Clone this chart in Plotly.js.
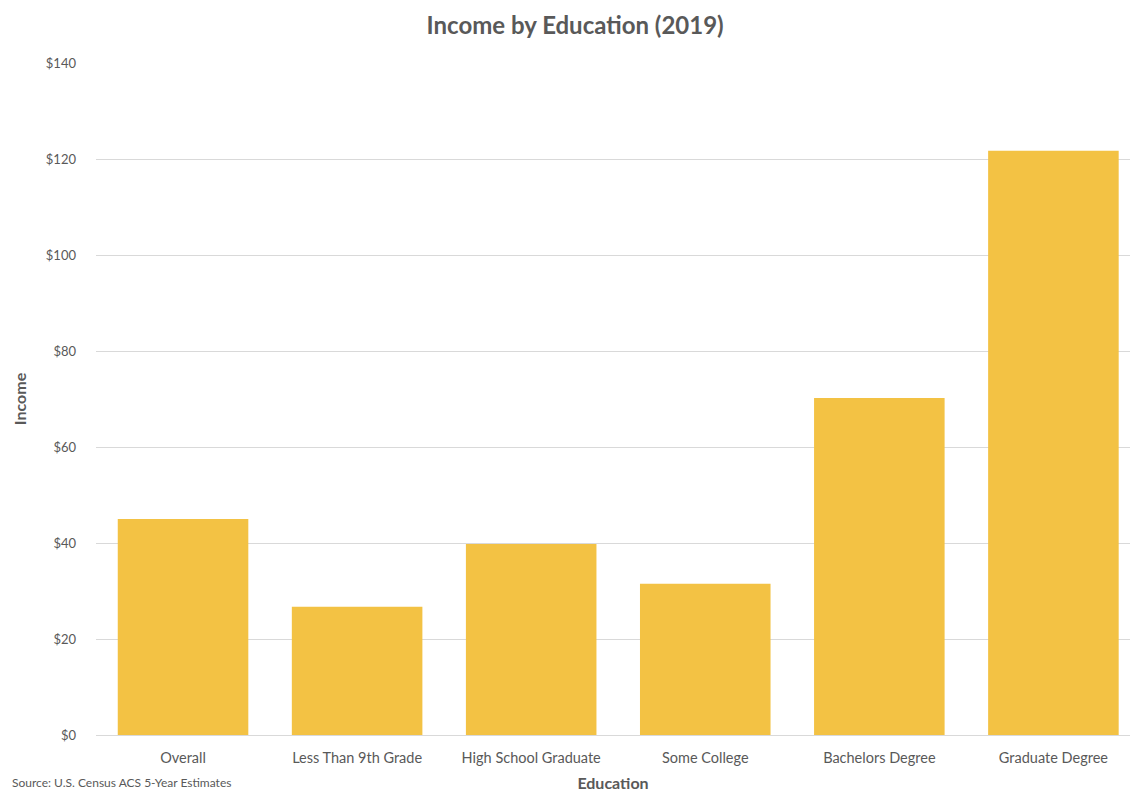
<!DOCTYPE html>
<html>
<head>
<meta charset="utf-8">
<script src="https://cdn.plot.ly/plotly-3.0.1.min.js"></script>
<style>html,body{margin:0;padding:0;background:#fff;overflow:hidden}</style>
</head>
<body>
<div id="chart" style="width:1130px;height:793px"></div>
<script>
const categories = ["Overall", "Less Than 9th Grade", "High School Graduate", "Some College", "Bachelors Degree", "Graduate Degree"];
const income = [45.0, 26.7, 39.8, 31.5, 70.2, 121.7];
const yTickVals = [0, 20, 40, 60, 80, 100, 120, 140];
const yTickText = ["$0", "$20", "$40", "$60", "$80", "$100", "$120", "$140"];

const FONT = "Lato, 'Open Sans', sans-serif";
const GREY = "#595959";

Plotly.newPlot("chart", [{
  type: "bar",
  x: categories,
  y: income,
  marker: {color: "#F3C244"},
  hoverinfo: "x+y"
}], {
  width: 1130, height: 793,
  margin: {l: 96, r: 0, t: 63, b: 58},
  paper_bgcolor: "#fff", plot_bgcolor: "#fff",
  bargap: 0.25,
  showlegend: false,
  font: {family: FONT, color: GREY},
  title: {text: "<b>Income by Education (2019)</b>", x: 0.509, xanchor: "center", y: 0.968, yanchor: "middle",
          font: {family: FONT, size: 24, color: GREY}},
  xaxis: {
    type: "category",
    range: [-0.5, 5.44],
    showgrid: false, zeroline: false, showline: false, ticks: "",
    ticklabelstandoff: 12,
    tickfont: {family: FONT, size: 14.5, color: GREY},
    title: {text: "<b>Education</b>", font: {family: FONT, size: 16, color: GREY}, standoff: 13}
  },
  yaxis: {
    range: [0, 140],
    tickvals: yTickVals, ticktext: yTickText,
    showgrid: true, gridcolor: "#d9d9d9", gridwidth: 1,
    zeroline: true, zerolinecolor: "#d9d9d9", zerolinewidth: 1,
    showline: false, ticks: "",
    ticklabelstandoff: 19,
    tickfont: {family: FONT, size: 13, color: GREY},
    title: {text: "<b>Income</b>", font: {family: FONT, size: 16, color: GREY}, standoff: 15}
  },
  annotations: [{
    text: "Source: U.S. Census ACS 5-Year Estimates",
    xref: "paper", yref: "paper", x: -0.083, y: -0.0848, xanchor: "left", yanchor: "bottom",
    showarrow: false, font: {family: FONT, size: 12, color: GREY}
  }]
}, {displayModeBar: false, responsive: false});
</script>
</body>
</html>
